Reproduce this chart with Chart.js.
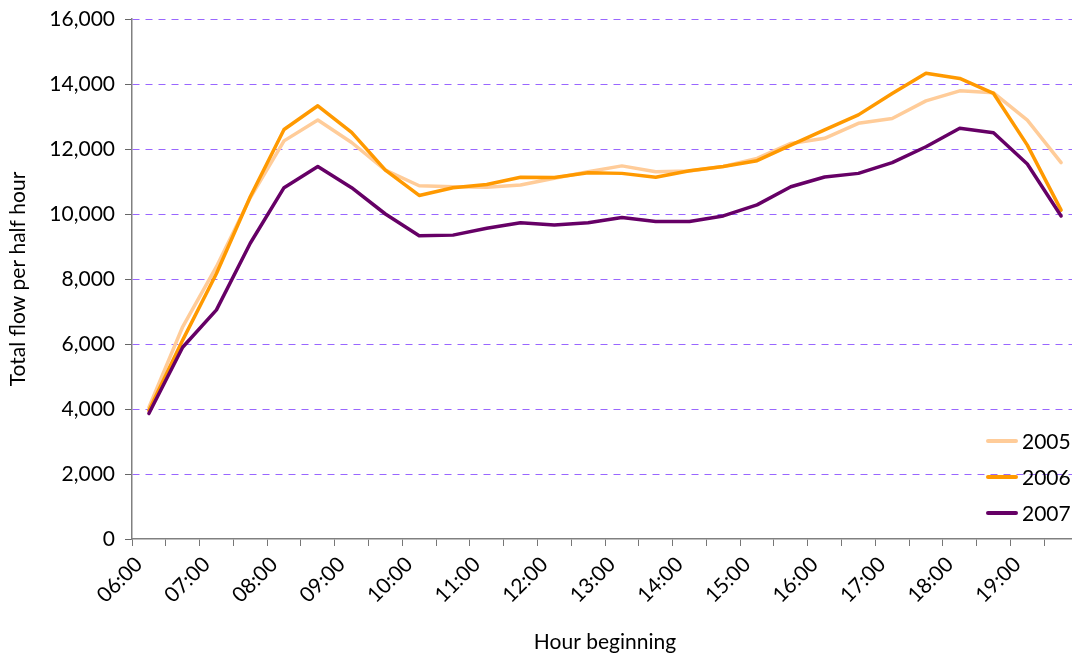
<!DOCTYPE html>
<html>
<head>
<meta charset="utf-8">
<script src="https://cdn.jsdelivr.net/npm/chart.js@4/dist/chart.umd.min.js"></script>
<style>
  html, body { margin: 0; padding: 0; background: #fff; overflow: hidden; }
  #wrap { width: 1090px; height: 658px; position: relative; }
</style>
</head>
<body>
<div id="wrap"><canvas id="c" width="1090" height="658"></canvas></div>
<script>
const categories = ['06:00','06:30','07:00','07:30','08:00','08:30','09:00','09:30','10:00','10:30',
  '11:00','11:30','12:00','12:30','13:00','13:30','14:00','14:30','15:00','15:30',
  '16:00','16:30','17:00','17:30','18:00','18:30','19:00','19:30'];
const seriesNames = ['2005', '2006', '2007'];
const flow2005 = [4050, 6530, 8380, 10500, 12250, 12890, 12200, 11350, 10870, 10840, 10820, 10890, 11100, 11300,
  11480, 11300, 11320, 11460, 11710, 12170, 12330, 12790, 12940, 13480, 13790, 13730, 12890, 11580];
const flow2006 = [3950, 6120, 8170, 10530, 12600, 13330, 12510, 11350, 10570, 10810, 10910, 11130, 11120, 11270,
  11250, 11130, 11330, 11460, 11640, 12120, 12590, 13050, 13710, 14330, 14170, 13710, 12120, 10120];
const flow2007 = [3860, 5900, 7050, 9100, 10810, 11460, 10810, 10000, 9330, 9350, 9560, 9730, 9660, 9730,
  9890, 9770, 9770, 9940, 10280, 10840, 11140, 11250, 11580, 12070, 12640, 12500, 11540, 9940];
const yTicks = [0, 2000, 4000, 6000, 8000, 10000, 12000, 14000, 16000];
const xTitle = 'Hour beginning';
const yTitle = 'Total flow per half hour';

const FONT = 'Lato, "Open Sans", sans-serif';
const colors = ['#FFCC99', '#FF9900', '#660066'];
const allSeries = [flow2005, flow2006, flow2007];

const legendPlugin = {
  id: 'cornerLegend',
  afterDraw(chart) {
    const ctx = chart.ctx;
    const ds = chart.data.datasets;
    ctx.save();
    ctx.font = '21px ' + FONT;
    ctx.textBaseline = 'middle';
    ctx.textAlign = 'left';
    ds.forEach((d, i) => {
      const y = 441 + i * 36;
      ctx.strokeStyle = d.borderColor;
      ctx.lineWidth = 4;
      ctx.lineCap = 'round';
      ctx.beginPath();
      ctx.moveTo(988, y);
      ctx.lineTo(1016, y);
      ctx.stroke();
      ctx.fillStyle = '#000';
      ctx.fillText(d.label, 1022, y + 1);
    });
    ctx.restore();
  }
};

new Chart(document.getElementById('c'), {
  type: 'line',
  data: {
    labels: categories,
    datasets: seriesNames.map((n, i) => ({
      label: n,
      data: allSeries[i],
      borderColor: colors[i],
      backgroundColor: colors[i],
      borderWidth: 3.5,
      pointRadius: 0,
      tension: 0,
      borderJoinStyle: 'round',
      borderCapStyle: 'round',
      order: 3 - i
    }))
  },
  options: {
    responsive: false,
    animation: false,
    devicePixelRatio: 1,
    layout: { padding: { top: 19, right: 12, left: 0, bottom: 0 } },
    plugins: { legend: { display: false }, tooltip: { enabled: false } },
    scales: {
      x: {
        type: 'category',
        offset: true,
        afterFit: s => { s.height = 119; },
        grid: {
          offset: true,
          drawOnChartArea: false,
          drawTicks: true,
          tickLength: 7,
          color: '#777',
          tickColor: '#777'
        },
        border: { color: '#808080', width: 1.5 },
        ticks: {
          autoSkip: false,
          minRotation: 45,
          maxRotation: 45,
          labelOffset: -10,
          padding: 6,
          color: '#000',
          font: { family: FONT, size: 21 },
          callback: function(val, index) { return index % 2 === 0 ? categories[index] : ''; }
        },
        title: {
          display: true,
          text: xTitle,
          color: '#000',
          font: { family: FONT, size: 21 },
          padding: { top: 0, bottom: 3 }
        }
      },
      y: {
        min: 0,
        max: 16000,
        afterFit: s => { s.width = 132; },
        afterBuildTicks: s => { s.ticks = yTicks.map(v => ({ value: v })); },
        grid: {
          color: ctx => (ctx.tick && ctx.tick.value === 0) ? 'rgba(0,0,0,0)' : '#9966FF',
          tickBorderDash: [],
          tickColor: '#666',
          tickLength: 7,
          lineWidth: 1
        },
        border: { color: '#808080', width: 1.5, dash: [7, 6] },
        ticks: {
          padding: 10,
          color: '#000',
          font: { family: FONT, size: 21, lineHeight: 0.8 },
          callback: v => Number(v).toLocaleString('en-US')
        },
        title: {
          display: true,
          text: yTitle,
          color: '#000',
          font: { family: FONT, size: 21 },
          padding: { top: 6, bottom: 0 }
        }
      }
    }
  },
  plugins: [legendPlugin]
});
</script>
</body>
</html>
